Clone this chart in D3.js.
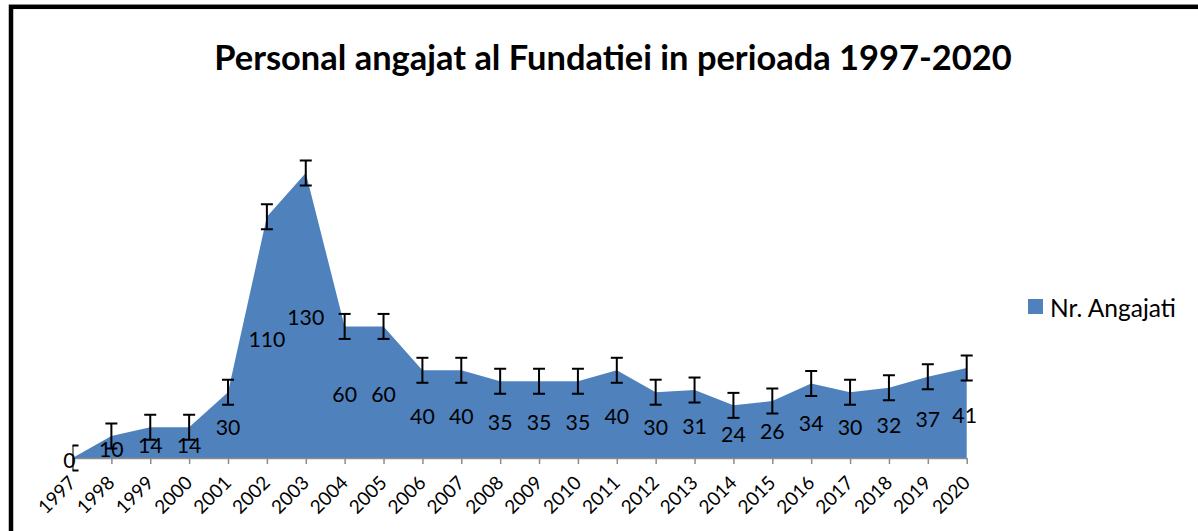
<!DOCTYPE html>
<html>
<head>
<meta charset="utf-8">
<script src="https://cdn.jsdelivr.net/npm/d3@7"></script>
<style>
  html, body { margin: 0; padding: 0; background: #fff; }
  svg { display: block; }
</style>
</head>
<body>
<svg id="chart" width="1198" height="531"></svg>
<script>
const title = "Personal angajat al Fundatiei in perioada 1997-2020";
const seriesName = "Nr. Angajati";
const years = ["1997","1998","1999","2000","2001","2002","2003","2004","2005","2006","2007","2008",
               "2009","2010","2011","2012","2013","2014","2015","2016","2017","2018","2019","2020"];
const angajati = [0,10,14,14,30,110,130,60,60,40,40,35,35,35,40,30,31,24,26,34,30,32,37,41];
const errorAmount = [5.7];
const yDomain = [0, 140];

const svg = d3.select("#chart");
const fontFamily = "Lato, 'Open Sans', sans-serif";
const blue = "#4F81BD";

// fit a text's font size to a target width
function fitWidth(sel, baseSize, target) {
  sel.attr("font-size", baseSize);
  const w = sel.node().getComputedTextLength();
  const s = baseSize * target / w;
  return s;
}

// frame
svg.append("rect")
  .attr("x", 11).attr("y", 6.8)
  .attr("width", 1300).attr("height", 600)
  .attr("fill", "none").attr("stroke", "#000").attr("stroke-width", 4.5);

const x = d3.scalePoint().domain(years).range([72.5, 966.7]).padding(0);
const y = d3.scaleLinear().domain(yDomain).range([458, 151]);

svg.append("defs").append("clipPath").attr("id", "plotclip")
  .append("rect").attr("x", 72.5).attr("y", 140).attr("width", 966.7 - 72.5 + 10).attr("height", 340);

const area = d3.area()
  .x((d, i) => x(years[i]))
  .y0(y(0))
  .y1(d => y(d));

svg.append("path")
  .datum(angajati)
  .attr("d", area)
  .attr("fill", blue);

// axis
const axis = d3.axisBottom(x).tickSizeOuter(0).tickSizeInner(6).tickPadding(3);
const gAxis = svg.append("g").attr("transform", `translate(0,${y(0)})`).call(axis);
gAxis.select(".domain").attr("stroke", "#8c8c8c").attr("stroke-width", 1.5);
gAxis.selectAll(".tick line").attr("stroke", "#8c8c8c").attr("stroke-width", 1.5);
const tickTexts = gAxis.selectAll(".tick text");
const tickSize = fitWidth(d3.select(tickTexts.nodes()[0]).attr("font-family", fontFamily), 19, 44);
tickTexts
  .attr("font-family", fontFamily)
  .attr("font-size", tickSize)
  .attr("fill", "#000")
  .attr("text-anchor", "end")
  .attr("dy", null)
  .attr("y", null)
  .attr("transform", "translate(4,26) rotate(-45)");

// error bars
const eb = svg.append("g").attr("clip-path", "url(#plotclip)");
angajati.forEach((v, i) => {
  const cx = x(years[i]);
  const top = y(v + errorAmount[0]), bot = y(v - errorAmount[0]);
  eb.append("line").attr("x1", cx).attr("x2", cx).attr("y1", top).attr("y2", bot)
    .attr("stroke", "#000").attr("stroke-width", 2);
  [top, bot].forEach(yy => {
    eb.append("line").attr("x1", cx - 6).attr("x2", cx + 6).attr("y1", yy).attr("y2", yy)
      .attr("stroke", "#000").attr("stroke-width", 2);
  });
});

// data labels
const labels = svg.append("g").selectAll("text")
  .data(angajati)
  .join("text")
  .attr("x", (d, i) => x(years[i]) - (i === 0 ? 3 : 0) - (i === years.length - 1 ? 2 : 0))
  .attr("y", d => y(d / 2) + 2)
  .attr("text-anchor", "middle")
  .attr("dominant-baseline", "central")
  .attr("font-family", fontFamily)
  .attr("fill", "#000")
  .text(d => d);
const lblSize = fitWidth(d3.select(labels.nodes()[6]), 21, 37);
labels.attr("font-size", lblSize);

// title
const t = svg.append("text")
  .attr("x", 613).attr("y", 70)
  .attr("text-anchor", "middle")
  .attr("font-family", fontFamily)
  .attr("font-weight", "bold")
  .attr("fill", "#000")
  .text(title);
t.attr("font-size", fitWidth(t, 27, 798));

// legend
svg.append("rect").attr("x", 1028).attr("y", 299).attr("width", 15).attr("height", 15).attr("fill", blue);
const lt = svg.append("text")
  .attr("x", 1050).attr("y", 307)
  .attr("dominant-baseline", "central")
  .attr("font-family", fontFamily)
  .attr("fill", "#000")
  .text(seriesName);
lt.attr("font-size", fitWidth(lt, 20, 126));
</script>
</body>
</html>
